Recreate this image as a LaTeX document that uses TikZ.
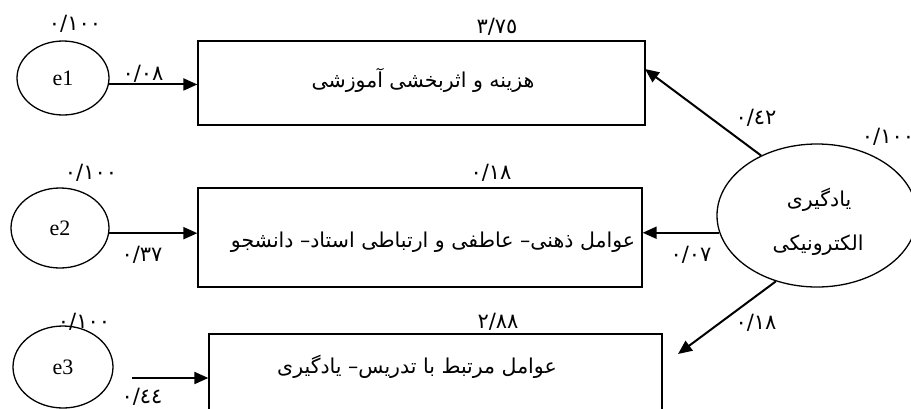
\documentclass[tikz,border=0pt]{standalone}
\usepackage{fontspec}
\setmainfont{Liberation Serif}
\newfontfamily\arabicfont[Script=Arabic]{DejaVu Sans}
\TeXXeTstate=1
\usetikzlibrary{shapes.geometric,arrows.meta}
\begin{document}
\begin{tikzpicture}[x=1pt,y=-1pt,
  err/.style={draw,ellipse,line width=1.3pt,inner sep=0pt,font=\fontsize{22}{24}\selectfont},
  boxn/.style={draw,rectangle,line width=1.3pt,inner sep=0pt},
  atext/.style={font=\arabicfont\fontsize{20.5}{24}\selectfont,inner sep=0pt},
  num/.style={font=\arabicfont\fontsize{21}{24}\selectfont,inner sep=0pt},
  arr/.style={line width=2pt,-{Triangle[length=14pt,width=12pt]}}]
\useasboundingbox (0,0) rectangle (911,408);
% latent errors
\node[err,minimum width=92pt,minimum height=74pt] (e1) at (63,78) {e1};
\node[err,minimum width=98pt,minimum height=80pt] (e2) at (60,228) {e2};
\node[err,minimum width=100pt,minimum height=82pt] (e3) at (63,367) {e3};
% main latent
\node[draw,ellipse,line width=1.3pt,minimum width=200pt,minimum height=143pt,inner sep=0pt] (EL) at (817,215.5) {};
\node[atext] (ELt1) at (819,200) {\beginR یادگیری\endR};
\node[atext] (ELt2) at (818,245) {\beginR الکترونیکی\endR};
% boxes
\node[boxn,minimum width=447pt,minimum height=84pt] (b1) at (421.5,83) {};
\node[boxn,minimum width=444pt,minimum height=99pt] (b2) at (420,237.5) {};
\node[boxn,minimum width=453pt,minimum height=90pt] (b3) at (435.5,379) {};
\node[atext] (b1t) at (423,80) {\beginR هزینه و اثربخشی آموزشی\endR};
\node[atext] (b2t) at (433,242) {\beginR عوامل ذهنی– عاطفی و ارتباطی استاد– دانشجو\endR};
\node[atext] (b3t) at (417,367) {\beginR عوامل مرتبط با تدریس– یادگیری\endR};
% arrow end points
\coordinate (s3) at (132,378);
\coordinate (t1) at (645,69);
\coordinate (t3) at (678,354);
\draw[arr] (e1.-8) -- (e1.-8 -| b1.west);
\draw[arr] (e2.-6) -- (e2.-6 -| b2.west);
\draw[arr] (s3) -- (s3 -| b3.west);
\draw[arr] (EL.133) -- (t1);
\draw[arr] (EL.190) -- (EL.190 -| b2.east);
\draw[arr] (EL.238) -- (t3);
% numbers
\node[num] (v1) at (75,24) {٠/١٠٠};
\node[num] (v2) at (91,173) {٠/١٠٠};
\node[num] (v3) at (84,322) {٠/١٠٠};
\node[num] (v4) at (888,137) {٠/١٠٠};
\node[num] (p1) at (143,74) {٠/٠٨};
\node[num] (p2) at (142,255) {٠/٣٧};
\node[num] (p3) at (142,397) {٠/٤٤};
\node[num] (r1) at (497,27) {٣/٧٥};
\node[num] (r2) at (491,173) {٠/١٨};
\node[num] (r3) at (498,322) {٢/٨٨};
\node[num] (l1) at (756,118) {٠/٤٢};
\node[num] (l2) at (691,255) {٠/٠٧};
\node[num] (l3) at (756,323) {٠/١٨};
\end{tikzpicture}
\end{document}
